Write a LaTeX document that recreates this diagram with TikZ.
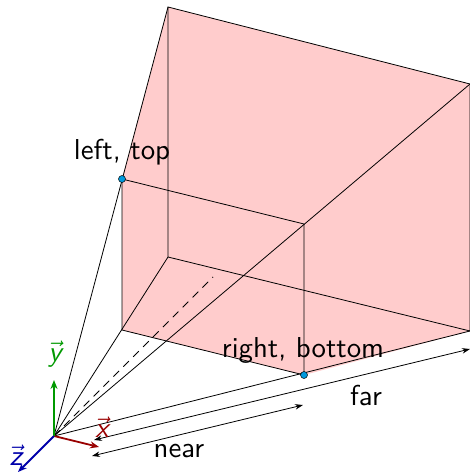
\documentclass[tikz,border=0pt]{standalone}
\usepackage{graphicx}
\usetikzlibrary{arrows.meta}
\definecolor{fillpink}{HTML}{FFCCCC}
\definecolor{axx}{HTML}{990000}
\definecolor{axy}{HTML}{009900}
\definecolor{axz}{HTML}{0000AA}
\definecolor{dotc}{HTML}{0099DD}
\tikzset{
  edge/.style={draw=black,line width=0.8pt},
  dimb/.style={black,line width=0.8pt,{Stealth[length=8pt,width=5.5pt]}-{Stealth[length=8pt,width=5.5pt]}},
  axis/.style={line width=1.8pt,-{Stealth[length=9pt,width=7pt]}},
  lab/.style={font=\sffamily,inner sep=0pt},
  dot/.style={circle,draw=black,fill=dotc,line width=0.5pt,inner sep=0pt,minimum size=7pt}
}
\newcommand{\vsf}[1]{\scalebox{2.88}{$\vec{\mbox{\sffamily\itshape #1}}$}}
\newcommand{\bigtxt}[1]{\scalebox{2.88}{#1}}
\begin{document}
\begin{tikzpicture}[x=1pt,y=-1pt]
\useasboundingbox (0,0) rectangle (470,473);
\coordinate (O) at (54,436);
\coordinate (FLT) at (168,7);
\coordinate (FRT) at (470,84);
\coordinate (FRB) at (470,331);
\coordinate (FLB) at (168,257);
\coordinate (NLT) at (122,179);
\coordinate (NRT) at (304,224);
\coordinate (NRB) at (304,375);
\coordinate (NLB) at (122,330);
\coordinate (C) at (213,277);
\fill[fillpink] (NLT) -- (FLT) -- (FRT) -- (FRB) -- (NRB) -- (NLB) -- cycle;
\draw[edge] (FLT) -- (FRT) -- (FRB) -- (FLB) -- cycle;
\draw[edge] (NLT) -- (NRT) -- (NRB) -- (NLB) -- cycle;
\draw[edge] (O) -- (FLT);
\draw[edge] (O) -- (FRT);
\draw[edge] (O) -- (FRB);
\draw[edge] (O) -- (FLB);
\draw[edge,dash pattern=on 8pt off 6pt] (O) -- (C);
\coordinate (Xe) at (99,447);
\coordinate (Ye) at (54,380);
\coordinate (Ze) at (18,472);
\draw[axis,axx] (O) -- (Xe);
\draw[axis,axy] (O) -- (Ye);
\draw[axis,axz] (O) -- (Ze);
\coordinate (Fa) at (94,440);
\coordinate (Fb) at (470,349);
\coordinate (Na) at (92,456);
\coordinate (Nb) at (303,405);
\draw[dimb] (Fa) -- (Fb);
\draw[dimb] (Na) -- (Nb);
\node[dot] (d1) at (NLT) {};
\node[dot] (d2) at (NRB) {};
\node[lab] (lt) at (122,152) {\bigtxt{left, top}};
\node[lab] (rb) at (303,350) {\bigtxt{right, bottom}};
\node[lab] (far) at (366,396) {\bigtxt{far}};
\node[lab] (near) at (179,451) {\bigtxt{near}};
\node[lab,text=axx] (lx) at (102,427) {\vsf{x}};
\node[lab,text=axy] (ly) at (55,354) {\vsf{y}};
\node[lab,text=axz] (lz) at (16,455) {\vsf{z}};
\end{tikzpicture}
\end{document}
